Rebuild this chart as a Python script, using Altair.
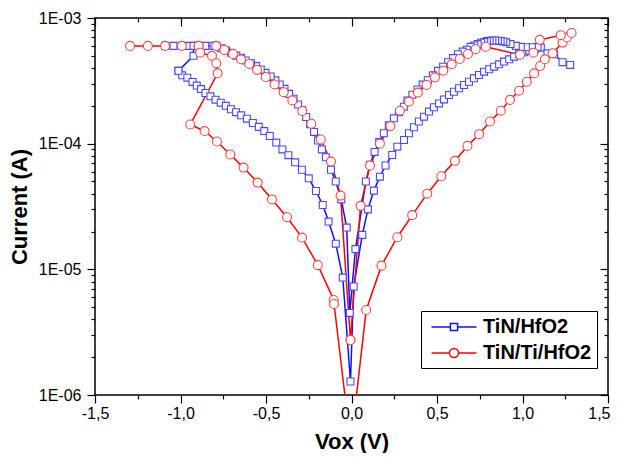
import altair as alt
import pandas as pd

series_names = ["TiN/HfO2", "TiN/Ti/HfO2"]

# TiN/HfO2 - part A (lower branches and high-voltage tail)
hfo2_a_v = [-1.012, -0.990, -0.960, -0.930, -0.905, -0.880, -0.854, -0.825, -0.795, -0.765,
            -0.735, -0.705, -0.675, -0.645, -0.612, -0.577, -0.542, -0.510, -0.478, -0.440,
            -0.404, -0.369, -0.330, -0.290, -0.250, -0.208, -0.168, -0.134, -0.092, -0.051,
            -0.006, 0.013, 0.063, 0.096, 0.131, 0.166, 0.199, 0.238, 0.268, 0.307,
            0.336, 0.365, 0.394, 0.424, 0.453, 0.482, 0.512, 0.541, 0.570, 0.599,
            0.629, 0.658, 0.687, 0.716, 0.746, 0.775, 0.805, 0.834, 0.863, 0.892,
            0.922, 0.951, 0.980, 1.010, 1.039, 1.072, 1.107, 1.146, 1.185, 1.234, 1.279]
hfo2_a_i = [3.8e-4, 3.5e-4, 3.35e-4, 3.1e-4, 2.9e-4, 2.72e-4, 2.53e-4, 2.38e-4, 2.24e-4, 2.12e-4,
            2.0e-4, 1.88e-4, 1.78e-4, 1.68e-4, 1.58e-4, 1.46e-4, 1.36e-4, 1.26e-4, 1.15e-4, 1.02e-4,
            9.0e-5, 8.1e-5, 7.1e-5, 6.2e-5, 5.3e-5, 4.2e-5, 3.25e-5, 2.4e-5, 1.6e-5, 8.6e-6,
            1.28e-6, 7.3e-6, 1.88e-5, 3.0e-5, 4.23e-5, 5.46e-5, 6.7e-5, 8.13e-5, 9.46e-5, 1.07e-4,
            1.21e-4, 1.35e-4, 1.50e-4, 1.64e-4, 1.80e-4, 1.95e-4, 2.09e-4, 2.25e-4, 2.44e-4, 2.59e-4,
            2.76e-4, 2.93e-4, 3.11e-4, 3.31e-4, 3.52e-4, 3.74e-4, 3.91e-4, 4.10e-4, 4.28e-4, 4.50e-4,
            4.69e-4, 4.92e-4, 5.14e-4, 5.33e-4, 5.50e-4, 5.67e-4, 5.81e-4, 5.23e-4, 5.14e-4, 4.45e-4, 4.23e-4]

# TiN/HfO2 - part B (upper branches, compliance plateau and return)
hfo2_b_v = [1.088, 1.055, 1.020, 0.990, 0.961, 0.930, 0.905, 0.888, 0.872, 0.856,
            0.840, 0.824, 0.808, 0.792, 0.776, 0.758, 0.738, 0.718, 0.697, 0.675,
            0.650, 0.622, 0.594, 0.565, 0.536, 0.506, 0.476, 0.446, 0.416, 0.386,
            0.356, 0.327, 0.306, 0.277, 0.248, 0.218, 0.189, 0.162, 0.135, 0.108,
            0.084, 0.023, -0.010, -0.028, -0.060, -0.092, -0.120, -0.150, -0.173, -0.196,
            -0.219, -0.242, -0.265, -0.288, -0.312, -0.339, -0.365, -0.392, -0.420, -0.445,
            -0.473, -0.503, -0.531, -0.558, -0.588, -0.619, -0.646, -0.674, -0.704, -0.734,
            -0.762, -0.790, -0.807, -0.855, -0.904, -0.953, -0.992, -1.041, -1.090, -0.924,
            -0.924, -1.012]
hfo2_b_i = [5.9e-4, 5.85e-4, 5.85e-4, 5.9e-4, 6.0e-4, 6.2e-4, 6.4e-4, 6.5e-4, 6.55e-4, 6.6e-4,
            6.62e-4, 6.62e-4, 6.6e-4, 6.55e-4, 6.45e-4, 6.35e-4, 6.2e-4, 6.05e-4, 5.9e-4, 5.6e-4,
            5.4e-4, 5.15e-4, 4.8e-4, 4.45e-4, 4.1e-4, 3.8e-4, 3.5e-4, 3.2e-4, 2.95e-4, 2.7e-4,
            2.45e-4, 2.2e-4, 1.97e-4, 1.78e-4, 1.59e-4, 1.4e-4, 1.21e-4, 1.03e-4, 8.6e-5, 6.8e-5,
            5.0e-5, 1.45e-5, 4.5e-6, 2.15e-5, 3.6e-5, 5.0e-5, 6.2e-5, 7.8e-5, 9.0e-5, 1.06e-4,
            1.24e-4, 1.43e-4, 1.63e-4, 1.84e-4, 2.05e-4, 2.28e-4, 2.49e-4, 2.73e-4, 2.96e-4, 3.19e-4,
            3.43e-4, 3.66e-4, 3.89e-4, 4.14e-4, 4.37e-4, 4.59e-4, 4.82e-4, 5.02e-4, 5.28e-4, 5.51e-4,
            5.75e-4, 6.0e-4, 6.0e-4, 6.0e-4, 6.0e-4, 6.0e-4, 6.0e-4, 6.0e-4, 6.0e-4, 6.0e-4,
            5.0e-4, 3.8e-4]

# TiN/Ti/HfO2 - full loop
ti_v = [-0.006, -0.064, -0.120, -0.180, -0.235, -0.288, -0.346, -0.397, -0.450, -0.501,
        -0.552, -0.598, -0.646, -0.693, -0.744, -0.791, -0.894, -0.992, -1.090, -1.191,
        -1.295, -0.894, -0.885, -0.816, -0.791, -0.783, -0.943, -0.859, -0.787, -0.709,
        -0.631, -0.549, -0.465, -0.377, -0.289, -0.197, -0.104, -0.102, -0.004, 0.086,
        0.175, 0.268, 0.355, 0.443, 0.525, 0.605, 0.678, 0.746, 0.810, 0.873,
        0.927, 0.980, 1.025, 1.068, 1.103, 1.131, 1.176, 1.234, 1.260, 1.287,
        1.224, 1.101, 1.064, 0.986, 0.785, 0.726, 0.681, 0.633, 0.586, 0.537,
        0.488, 0.439, 0.388, 0.336, 0.283, 0.228, 0.166, 0.108, 0.053, -0.006]
ti_i = [2.74e-6, 3.86e-5, 7.2e-5, 1.08e-4, 1.44e-4, 1.82e-4, 2.21e-4, 2.57e-4, 2.96e-4, 3.39e-4,
        3.86e-4, 4.31e-4, 4.69e-4, 5.17e-4, 5.56e-4, 6.0e-4, 6.0e-4, 6.0e-4, 6.0e-4, 6.0e-4,
        6.0e-4, 6.0e-4, 5.3e-4, 5.0e-4, 4.37e-4, 3.63e-4, 1.42e-4, 1.26e-4, 1.04e-4, 8.2e-5,
        6.45e-5, 4.9e-5, 3.6e-5, 2.6e-5, 1.79e-5, 1.08e-5, 5.7e-6, 5.3e-6, 4.0e-7, 4.75e-6,
        1.07e-5, 1.8e-5, 2.7e-5, 4.0e-5, 5.5e-5, 7.3e-5, 9.6e-5, 1.19e-4, 1.5e-4, 1.83e-4,
        2.23e-4, 2.64e-4, 3.11e-4, 3.63e-4, 4.15e-4, 4.69e-4, 5.24e-4, 6.37e-4, 7.0e-4, 7.6e-4,
        7.3e-4, 6.7e-4, 5.3e-4, 5.1e-4, 5.9e-4, 5.64e-4, 5.17e-4, 4.72e-4, 4.28e-4, 3.81e-4,
        3.37e-4, 2.93e-4, 2.55e-4, 2.16e-4, 1.83e-4, 1.38e-4, 1.0e-4, 6.7e-5, 3.2e-5, 2.74e-6]

x_major = [-1.5, -1.0, -0.5, 0.0, 0.5, 1.0, 1.5]
x_minor = [-1.25, -0.75, -0.25, 0.25, 0.75, 1.25]
y_major = [1e-6, 1e-5, 1e-4, 1e-3]
y_minor = [2e-6, 3e-6, 4e-6, 5e-6, 6e-6, 7e-6, 8e-6, 9e-6,
           2e-5, 3e-5, 4e-5, 5e-5, 6e-5, 7e-5, 8e-5, 9e-5,
           2e-4, 3e-4, 4e-4, 5e-4, 6e-4, 7e-4, 8e-4, 9e-4]
x_ticks = sorted(x_major + x_minor)
y_ticks = sorted(y_major + y_minor)

rows = []
def add(series, seg, vs, cs):
    for k, (v, c) in enumerate(zip(vs, cs)):
        rows.append({"series": series, "seg": seg, "idx": k, "v": v, "i": c})

add(series_names[0], "a", hfo2_a_v, hfo2_a_i)
add(series_names[0], "b", hfo2_b_v, hfo2_b_i)
add(series_names[1], "c", ti_v, ti_i)
df = pd.DataFrame(rows)

FONT = "Liberation Sans"
xs = alt.Scale(domain=[-1.5, 1.5], nice=False, zero=False)
ys = alt.Scale(type="log", domain=[1e-6, 1e-3], nice=False)

is_major_x = "abs(datum.value * 2 - round(datum.value * 2)) < 0.001"
is_major_y = "abs(log(datum.value) / LN10 - round(log(datum.value) / LN10)) < 0.001"
is_last_x = "datum.value > 1.4"

common = dict(grid=False, domain=False, tickColor="black", tickWidth=1.2,
              labelFont=FONT, labelFontSize=16, labelColor="black",
              titleFont=FONT, titleFontSize=22, titleFontWeight="bold", titleColor="black",
              labelOverlap=False, labelFlush=False)

x_axis = alt.Axis(
    orient="bottom", values=x_ticks, title="Vox (V)",
    labelExpr=f"{is_major_x} ? (datum.value < -0.001 ? '-' : '') + replace(format(abs(datum.value), '.1f'), '.', ',') : ''",
    tickSize={"condition": {"test": is_major_x, "value": 8}, "value": 4},
    labelAlign={"condition": {"test": is_last_x, "value": "right"}, "value": "center"},
    labelOffset={"condition": {"test": is_last_x, "value": 2}, "value": 0},
    labelPadding=2, titlePadding=10, **common)
y_axis = alt.Axis(
    orient="left", values=y_ticks, title="Current (A)",
    labelExpr=f"{is_major_y} ? '1E-0' + format(-round(log(datum.value) / LN10), 'd') : ''",
    tickSize={"condition": {"test": is_major_y, "value": 8}, "value": 4},
    labelPadding=6, titlePadding=7, **common)

inner = dict(labels=False, grid=False, domain=False, tickColor="black", tickWidth=1.2, title=None)
top_major = alt.Axis(orient="top", values=x_major, tickSize=8, offset=-8, **inner)
top_minor = alt.Axis(orient="top", values=x_minor, tickSize=4, offset=-4, **inner)
right_major = alt.Axis(orient="right", values=y_major, tickSize=8, offset=-8, **inner)
right_minor = alt.Axis(orient="right", values=y_minor, tickSize=4, offset=-4, **inner)

# legend glyphs: a 45 px line with the marker in its middle (unit = 10 px at symbolSize 400)
blue_sym = "M-2.25,0H-0.36M0.36,0H2.25M-0.36,-0.36H0.36V0.36H-0.36Z"
red_sym = "M-2.25,0H-0.45M0.45,0H2.25M0.45,0A0.45,0.45,0,1,1,-0.45,0A0.45,0.45,0,1,1,0.45,0Z"

legend = alt.Legend(
    orient="none", legendX=326, legendY=293, title=None, direction="vertical",
    labelFont=FONT, labelFontSize=20, labelFontWeight="bold", labelColor="black",
    labelExpr="datum.label + '  '",
    strokeColor="black", fillColor="white", padding=5, symbolOffset=17,
    symbolSize=400, symbolStrokeWidth=1.5, rowPadding=5, labelOffset=18,
    symbolType=alt.ExprRef(expr=f"datum.value === '{series_names[0]}' ? '{blue_sym}' : '{red_sym}'"),
    symbolFillColor="white",
)

base = alt.Chart(df)

lines = base.mark_line(strokeWidth=1.5, clip=True).encode(
    x=alt.X("v:Q", scale=xs, axis=x_axis),
    y=alt.Y("i:Q", scale=ys, axis=y_axis),
    color=alt.Color("series:N", scale=alt.Scale(domain=series_names, range=["#1010ff", "#ff0000"]), legend=legend),
    detail="seg:N",
    order="idx:Q",
)

pts_blue = base.transform_filter(alt.datum.series == series_names[0]).mark_point(
    shape="square", size=48, filled=False, fill="white", fillOpacity=1,
    stroke="#4848ff", strokeWidth=1.1, opacity=1, clip=True,
).encode(
    x=alt.X("v:Q", scale=xs, axis=top_major),
    y=alt.Y("i:Q", scale=ys, axis=right_major),
)

pts_red = base.transform_filter(alt.datum.series == series_names[1]).mark_point(
    shape="circle", size=80, filled=False, fill="white", fillOpacity=1,
    stroke="#ff4444", strokeWidth=1.1, opacity=1, clip=True,
).encode(
    x=alt.X("v:Q", scale=xs, axis=top_minor),
    y=alt.Y("i:Q", scale=ys, axis=right_minor),
)

chart = alt.layer(lines, pts_blue, pts_red).resolve_axis(
    x="independent", y="independent"
).properties(
    width=513, height=377,
    autosize=alt.AutoSizeParams(type="none"),
    padding={"left": 87, "top": 10, "right": 3, "bottom": 58},
    background="white",
).configure_view(stroke="black", strokeWidth=1.5)

chart.save("out.html", embed_options={"renderer": "svg", "actions": False})
